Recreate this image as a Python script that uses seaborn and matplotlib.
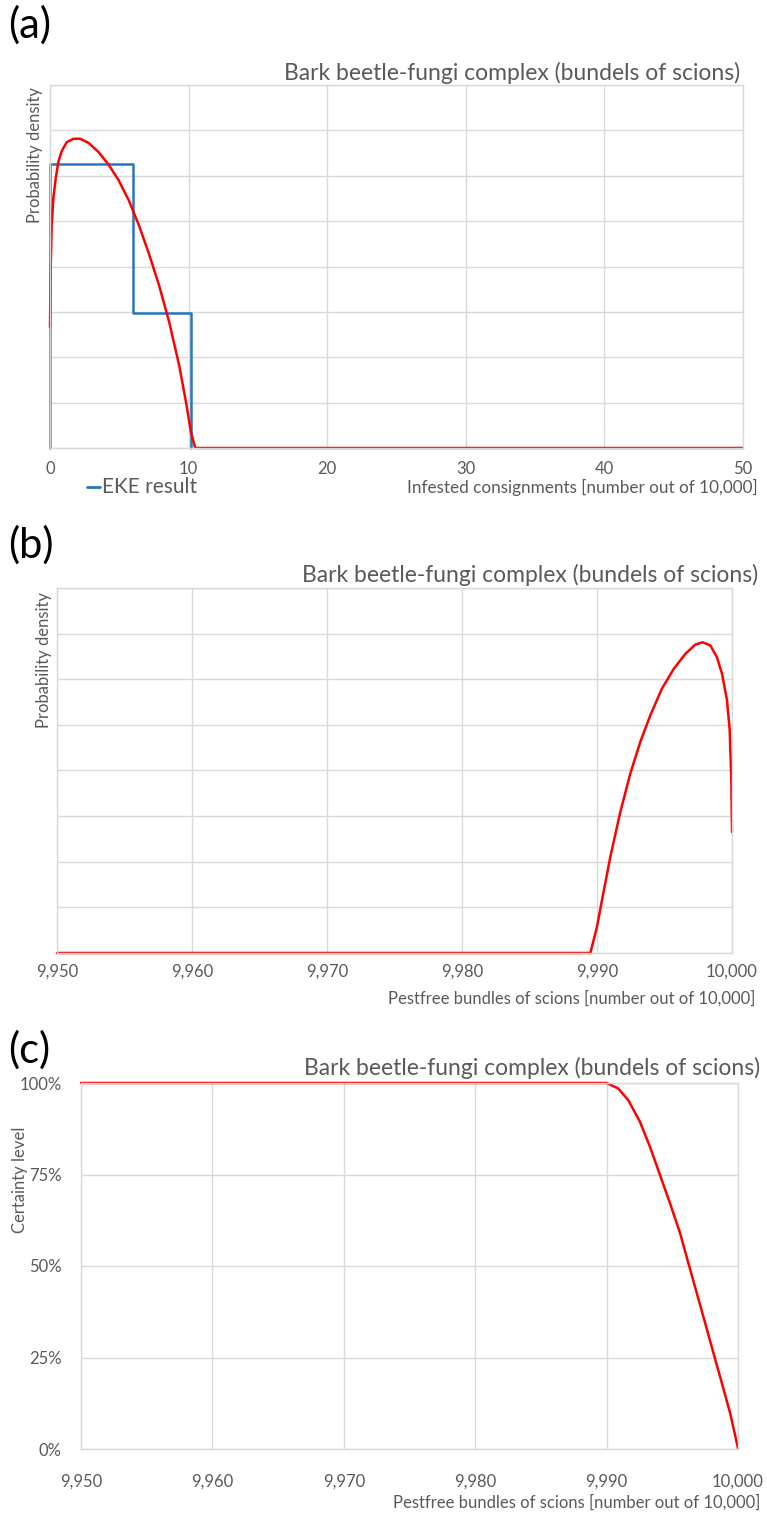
import numpy as np
import pandas as pd
import matplotlib
matplotlib.use("Agg")
import matplotlib.pyplot as plt
from matplotlib.ticker import FuncFormatter
import seaborn as sns

# ---- data -------------------------------------------------------------
# EKE result (quantile-based step density) for infested consignments
eke_edges = [0, 6, 10.2]
eke_heights = [0.125, 0.0595]

# fitted density of infested consignments (out of 10,000)
infested = [0, 0.05, 0.12, 0.24, 0.41, 0.6, 0.85, 1.21, 1.69, 2.18, 2.78, 3.51,
            4.24, 4.96, 5.69, 6.42, 7.14, 7.87, 8.6, 9.32, 9.81, 10.17, 10.48, 50]
infested_density = [0.0533, 0.079, 0.098, 0.110, 0.1187, 0.126, 0.131, 0.1348,
                    0.1363, 0.1363, 0.1345, 0.1304, 0.1248, 0.1179, 0.1091, 0.0981,
                    0.0856, 0.0717, 0.0555, 0.0364, 0.0203, 0.0070, 0.0, 0.0]

# fitted density of pest-free bundles of scions (out of 10,000)
pestfree = [9950, 9989.51, 9990.0, 9990.37, 9990.99, 9991.73, 9992.47, 9993.21,
            9993.95, 9994.81, 9995.68, 9996.54, 9997.28, 9997.83, 9998.4,
            9998.89, 9999.26, 9999.63, 9999.83, 9999.95, 10000]
pestfree_density = [0.0, 0.0, 0.0115, 0.0232, 0.0422, 0.0619, 0.0787, 0.0926,
                    0.1042, 0.1159, 0.1245, 0.1311, 0.1352, 0.1362, 0.1348,
                    0.1296, 0.1224, 0.1108, 0.0977, 0.0757, 0.053]

# certainty level of pest freedom
certainty_x = [9950, 9990.0, 9990.89, 9991.65, 9992.54, 9993.31, 9994.07, 9994.83,
               9995.60, 9996.23, 9996.87, 9997.51, 9998.14, 9998.78, 9999.41, 10000]
certainty = [1.0, 1.0, 0.985, 0.953, 0.894, 0.825, 0.748, 0.671, 0.589, 0.507,
             0.425, 0.343, 0.261, 0.179, 0.097, 0.002]

x_ticks_a = [0, 10, 20, 30, 40, 50]
x_ticks_bc = [9950, 9960, 9970, 9980, 9990, 10000]
title = "Bark beetle-fungi complex (bundels of scions)"

# ---- style ------------------------------------------------------------
sns.set_theme(style="white")
plt.rcParams["font.family"] = ["Lato", "DejaVu Sans"]
GRID = "#d9d9d9"
TXT = "#595959"
RED = "#ff0000"
BLUE = "#2a74c0"

W, H = 767, 1513
fig = plt.figure(figsize=(W / 100, H / 100), dpi=100)


def axes_px(l, t, r, b):
    return fig.add_axes([l / W, 1 - b / H, (r - l) / W, (b - t) / H])


def ftext(x, y, s, **kw):
    fig.text(x / W, 1 - y / H, s, **kw)


def style_axes(ax, xticks, xlim, ylim, yticks, xpad):
    ax.set_xlim(*xlim)
    ax.set_ylim(*ylim)
    ax.set_xticks(xticks)
    ax.set_yticks(yticks)
    ax.grid(True, color=GRID, linewidth=1.0)
    ax.set_axisbelow(True)
    for sp in ax.spines.values():
        sp.set_color(GRID)
        sp.set_linewidth(1.0)
    ax.tick_params(axis="both", length=0, colors=TXT, labelsize=12)
    ax.tick_params(axis="x", pad=xpad)
    ax.set_xlabel("")
    ax.set_ylabel("")
    for ln in ax.lines:
        ln.set_clip_on(False)


comma = FuncFormatter(lambda v, p: f"{int(round(v)):,}")

# ---- (a) infested consignments ---------------------------------------
ax_a = axes_px(50, 85, 743, 448)
step_x = [eke_edges[0], eke_edges[0], eke_edges[1], eke_edges[1], eke_edges[2], eke_edges[2]]
step_y = [0, eke_heights[0], eke_heights[0], eke_heights[1], eke_heights[1], 0]
sns.lineplot(x=step_x, y=step_y, ax=ax_a, color=BLUE, linewidth=1.8,
             sort=False, estimator=None)
sns.lineplot(x=infested, y=infested_density, ax=ax_a, color=RED, linewidth=1.8,
             sort=False, estimator=None)
style_axes(ax_a, x_ticks_a, (0, 50), (0, 0.16), np.arange(0, 0.161, 0.02), 9)
ax_a.set_yticklabels([])

ftext(8, 25, "(a)", fontsize=30, color="black", va="center", ha="left")
ftext(740, 73, title, fontsize=16.5, color=TXT, ha="right", va="center")
ftext(35, 155, "Probability density", fontsize=12, color=TXT, rotation=90,
      ha="center", va="center")
ftext(758, 487, "Infested consignments [number out of 10,000]", fontsize=12.3,
      color=TXT, ha="right", va="center")
fig.add_artist(plt.Line2D([87 / W, 100 / W], [1 - 487 / H, 1 - 487 / H],
                          color=BLUE, linewidth=2))
ftext(102, 487, "EKE result", fontsize=15, color=TXT, ha="left", va="center")

# ---- (b) pest-free bundles: density ----------------------------------
ax_b = axes_px(57, 588, 732, 953)
sns.lineplot(x=pestfree, y=pestfree_density, ax=ax_b, color=RED, linewidth=1.8,
             sort=False, estimator=None)
style_axes(ax_b, x_ticks_bc, (9950, 10000), (0, 0.16), np.arange(0, 0.161, 0.02), 8)
ax_b.set_yticklabels([])
ax_b.xaxis.set_major_formatter(comma)

ftext(8, 545, "(b)", fontsize=30, color="black", va="center", ha="left")
ftext(758, 575, title, fontsize=16.5, color=TXT, ha="right", va="center")
ftext(44, 660, "Probability density", fontsize=12, color=TXT, rotation=90,
      ha="center", va="center")
ftext(755, 998, "Pestfree bundles of scions [number out of 10,000]", fontsize=12,
      color=TXT, ha="right", va="center")

# ---- (c) certainty level ---------------------------------------------
ax_c = axes_px(81, 1083, 738, 1449)
sns.lineplot(x=certainty_x, y=certainty, ax=ax_c, color=RED, linewidth=1.8,
             sort=False, estimator=None)
style_axes(ax_c, x_ticks_bc, (9950, 10000), (0, 1.0), [0, 0.25, 0.5, 0.75, 1.0], 18)
ax_c.xaxis.set_major_formatter(comma)
ax_c.yaxis.set_major_formatter(FuncFormatter(lambda v, p: f"{v:.0%}"))
ax_c.tick_params(axis="y", pad=14)

ftext(8, 1050, "(c)", fontsize=30, color="black", va="center", ha="left")
ftext(760, 1068, title, fontsize=16.5, color=TXT, ha="right", va="center")
ftext(20, 1180, "Certainty level", fontsize=12, color=TXT, rotation=90,
      ha="center", va="center")
ftext(760, 1502, "Pestfree bundles of scions [number out of 10,000]", fontsize=12,
      color=TXT, ha="right", va="center")

fig.savefig("out.png", dpi=100)
